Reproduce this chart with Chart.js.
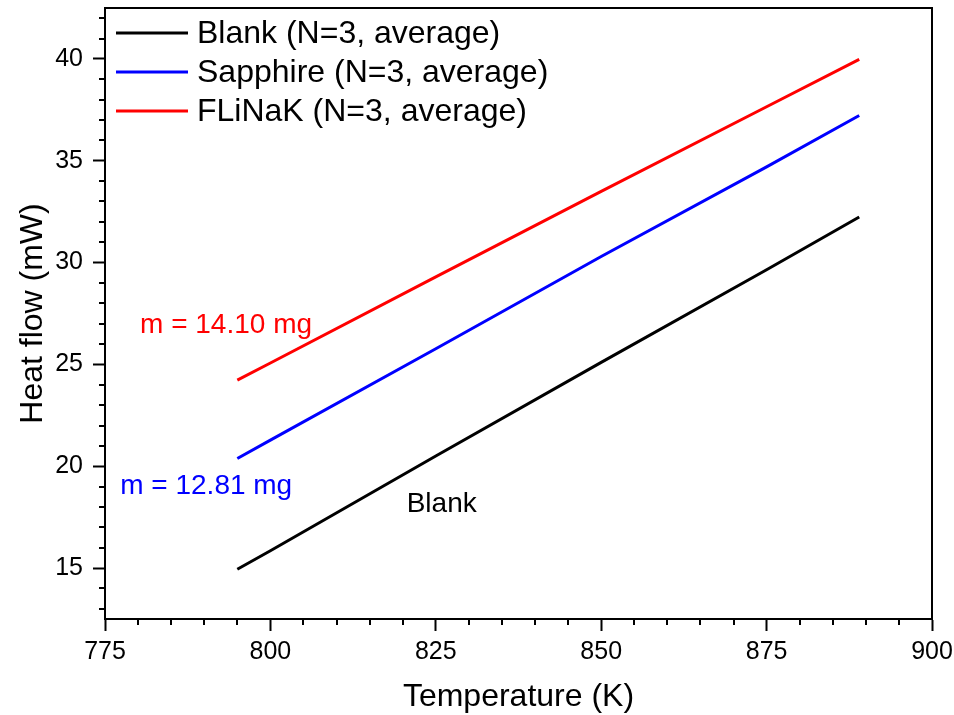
<!DOCTYPE html>
<html>
<head>
<meta charset="utf-8">
<script src="https://cdn.jsdelivr.net/npm/chart.js@4.4.1/dist/chart.umd.min.js"></script>
<style>
  html, body { margin: 0; padding: 0; background: #fff; }
  canvas { display: block; }
</style>
</head>
<body>
<canvas id="heatChart" width="954" height="715"></canvas>
<script>
// temperatures (K)
const temps = [795, 800, 825, 850, 875, 889];
// heat flow (mW)
const blank = [14.94, 15.85, 20.5, 25.1, 29.65, 32.24];
const sapphire = [20.38, 21.28, 25.77, 30.3, 34.7, 37.22];
const flinak = [24.23, 25.07, 29.3, 33.5, 37.65, 39.98];

const labels = ['Blank (N=3, average)', 'Sapphire (N=3, average)', 'FLiNaK (N=3, average)'];
const xTicks = [775, 800, 825, 850, 875, 900];
const yTicks = [15, 20, 25, 30, 35, 40];

const FONT = '"Liberation Sans", Arial, sans-serif';

function pts(ys) {
    return temps.map((t, i) => ({x: t, y: ys[i]}));
}

// minor ticks, frame, legend and text labels
const extras = {
    id: 'extras',
    afterDraw(chart) {
        const ctx = chart.ctx;
        const a = chart.chartArea;
        const xs = chart.scales.x, ys = chart.scales.y;
        ctx.save();
        ctx.strokeStyle = '#000';
        ctx.lineWidth = 2;
        // minor ticks
        ctx.beginPath();
        for (let v = 775; v <= 900; v += 5) {
            if (v % 25 === 0) continue;
            const px = Math.round(xs.getPixelForValue(v));
            ctx.moveTo(px, a.bottom);
            ctx.lineTo(px, a.bottom + 6);
        }
        for (let v = 13; v <= 42; v += 1) {
            if (v % 5 === 0) continue;
            const py = Math.round(ys.getPixelForValue(v));
            ctx.moveTo(a.left, py);
            ctx.lineTo(a.left - 6, py);
        }
        ctx.stroke();
        // frame
        ctx.lineWidth = 2;
        ctx.strokeRect(a.left, a.top, a.right - a.left, a.bottom - a.top);

        // legend
        ctx.font = '32px ' + FONT;
        ctx.textBaseline = 'middle';
        ctx.textAlign = 'left';
        chart.data.datasets.forEach((ds, i) => {
            const y = 33 + i * 39;
            ctx.strokeStyle = ds.borderColor;
            ctx.lineWidth = 3;
            ctx.beginPath();
            ctx.moveTo(116, y);
            ctx.lineTo(188, y);
            ctx.stroke();
            ctx.fillStyle = '#000';
            ctx.fillText(ds.label, 197, y + 1);
        });

        // annotations
        const notes = [
            {text: 'm = 14.10 mg', x: 780.3, y: 26.9, color: '#ff0000'},
            {text: 'm = 12.81 mg', x: 777.3, y: 19.03, color: '#0000ff'},
            {text: 'Blank', x: 820.6, y: 18.14, color: '#000000'}
        ];
        ctx.font = '28px ' + FONT;
        notes.forEach(n => {
            ctx.fillStyle = n.color;
            ctx.fillText(n.text, xs.getPixelForValue(n.x), ys.getPixelForValue(n.y));
        });
        ctx.restore();
    }
};

new Chart(document.getElementById('heatChart'), {
    type: 'line',
    data: {
        datasets: [
            {label: labels[0], data: pts(blank), borderColor: '#000000'},
            {label: labels[1], data: pts(sapphire), borderColor: '#0000ff'},
            {label: labels[2], data: pts(flinak), borderColor: '#ff0000'}
        ]
    },
    options: {
        responsive: false,
        animation: false,
        layout: {padding: {top: 8, right: 22, left: 0, bottom: 0}},
        elements: {
            point: {radius: 0},
            line: {borderWidth: 3, tension: 0, fill: false}
        },
        plugins: {legend: {display: false}, tooltip: {enabled: false}},
        scales: {
            x: {
                type: 'linear',
                min: 775, max: 900,
                afterBuildTicks: s => { s.ticks = xTicks.map(v => ({value: v})); },
                afterFit: s => { s.height = 96; s.paddingLeft = 0; s.paddingRight = 0; },
                grid: {drawOnChartArea: false, tickLength: 12, tickWidth: 2, tickColor: '#000'},
                border: {color: '#000', width: 2},
                ticks: {color: '#000', padding: 6, maxRotation: 0, font: {family: FONT, size: 25}},
                title: {display: true, text: 'Temperature (K)', color: '#000',
                        font: {family: FONT, size: 32, lineHeight: 1.1}, padding: {top: 0, bottom: 0}}
            },
            y: {
                type: 'linear',
                min: 12.5, max: 42.5,
                afterBuildTicks: s => { s.ticks = yTicks.map(v => ({value: v})); },
                afterFit: s => { s.width = 105; s.paddingTop = 0; s.paddingBottom = 0; },
                grid: {drawOnChartArea: false, tickLength: 12, tickWidth: 2, tickColor: '#000'},
                border: {color: '#000', width: 2},
                ticks: {color: '#000', padding: 10, font: {family: FONT, size: 25}},
                title: {display: true, text: 'Heat flow (mW)', color: '#000',
                        font: {family: FONT, size: 32, lineHeight: 1.2}, padding: {top: 14, bottom: 0}}
            }
        }
    },
    plugins: [extras]
});
</script>
</body>
</html>
